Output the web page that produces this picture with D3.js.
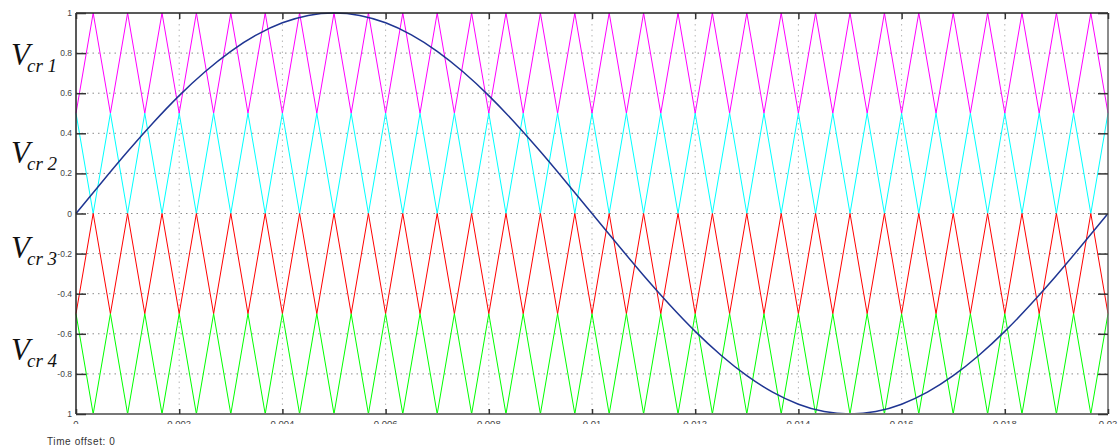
<!DOCTYPE html>
<html>
<head>
<meta charset="utf-8">
<script src="https://cdn.jsdelivr.net/npm/d3@7"></script>
<style>
  body { margin: 0; background: #fff; }
  svg { display: block; }
</style>
</head>
<body>
<svg id="chart" width="1118" height="448"></svg>
<script>
// ---------- data ----------
const carrierTimes = [
  0, 0.000333, 0.000667, 0.001, 0.001333, 0.001667, 0.002, 0.002333, 0.002667, 0.003,
  0.003333, 0.003667, 0.004, 0.004333, 0.004667, 0.005, 0.005333, 0.005667, 0.006, 0.006333,
  0.006667, 0.007, 0.007333, 0.007667, 0.008, 0.008333, 0.008667, 0.009, 0.009333, 0.009667,
  0.01, 0.010333, 0.010667, 0.011, 0.011333, 0.011667, 0.012, 0.012333, 0.012667, 0.013,
  0.013333, 0.013667, 0.014, 0.014333, 0.014667, 0.015, 0.015333, 0.015667, 0.016, 0.016333,
  0.016667, 0.017, 0.017333, 0.017667, 0.018, 0.018333, 0.018667, 0.019, 0.019333, 0.019667, 0.02
];
// vertex values of the four triangular carriers (alternating trough/peak)
const vcr1 = [0.5,1,0.5,1,0.5,1,0.5,1,0.5,1,0.5,1,0.5,1,0.5,1,0.5,1,0.5,1,0.5,1,0.5,1,0.5,1,0.5,1,0.5,1,0.5,1,0.5,1,0.5,1,0.5,1,0.5,1,0.5,1,0.5,1,0.5,1,0.5,1,0.5,1,0.5,1,0.5,1,0.5,1,0.5,1,0.5,1,0.5];
const vcr2 = [0.5,0,0.5,0,0.5,0,0.5,0,0.5,0,0.5,0,0.5,0,0.5,0,0.5,0,0.5,0,0.5,0,0.5,0,0.5,0,0.5,0,0.5,0,0.5,0,0.5,0,0.5,0,0.5,0,0.5,0,0.5,0,0.5,0,0.5,0,0.5,0,0.5,0,0.5,0,0.5,0,0.5,0,0.5,0,0.5,0,0.5];
const vcr3 = [-0.5,0,-0.5,0,-0.5,0,-0.5,0,-0.5,0,-0.5,0,-0.5,0,-0.5,0,-0.5,0,-0.5,0,-0.5,0,-0.5,0,-0.5,0,-0.5,0,-0.5,0,-0.5,0,-0.5,0,-0.5,0,-0.5,0,-0.5,0,-0.5,0,-0.5,0,-0.5,0,-0.5,0,-0.5,0,-0.5,0,-0.5,0,-0.5,0,-0.5,0,-0.5,0,-0.5];
const vcr4 = [-0.5,-1,-0.5,-1,-0.5,-1,-0.5,-1,-0.5,-1,-0.5,-1,-0.5,-1,-0.5,-1,-0.5,-1,-0.5,-1,-0.5,-1,-0.5,-1,-0.5,-1,-0.5,-1,-0.5,-1,-0.5,-1,-0.5,-1,-0.5,-1,-0.5,-1,-0.5,-1,-0.5,-1,-0.5,-1,-0.5,-1,-0.5,-1,-0.5,-1,-0.5,-1,-0.5,-1,-0.5,-1,-0.5,-1,-0.5,-1,-0.5];

const refTimes = [
  0, 0.0005, 0.001, 0.0015, 0.002, 0.0025, 0.003, 0.0035, 0.004, 0.0045,
  0.005, 0.0055, 0.006, 0.0065, 0.007, 0.0075, 0.008, 0.0085, 0.009, 0.0095,
  0.01, 0.0105, 0.011, 0.0115, 0.012, 0.0125, 0.013, 0.0135, 0.014, 0.0145,
  0.015, 0.0155, 0.016, 0.0165, 0.017, 0.0175, 0.018, 0.0185, 0.019, 0.0195, 0.02
];
const refValues = [
  0, 0.156, 0.309, 0.454, 0.588, 0.707, 0.809, 0.891, 0.951, 0.988,
  1, 0.988, 0.951, 0.891, 0.809, 0.707, 0.588, 0.454, 0.309, 0.156,
  0, -0.156, -0.309, -0.454, -0.588, -0.707, -0.809, -0.891, -0.951, -0.988,
  -1, -0.988, -0.951, -0.891, -0.809, -0.707, -0.588, -0.454, -0.309, -0.156, 0
];

const xTicks = [0, 0.002, 0.004, 0.006, 0.008, 0.01, 0.012, 0.014, 0.016, 0.018, 0.02];
const xTickLabels = ["0", "0.002", "0.004", "0.006", "0.008", "0.01", "0.012", "0.014", "0.016", "0.018", "0.02"];
const yTicks = [1, 0.8, 0.6, 0.4, 0.2, 0, -0.2, -0.4, -0.6, -0.8, -1];
const yTickLabels = ["1", "0.8", "0.6", "0.4", "0.2", "0", "-0.2", "-0.4", "-0.6", "-0.8", "1"];

const seriesNames = ["1", "2", "3", "4"];
const seriesColors = ["#ff00ff", "#00ffff", "#ff0000", "#00ff00"];
const refColor = "#1f3592";

// ---------- layout ----------
const svg = d3.select("#chart");
const L = 76, R = 1108, T = 13, B = 414;
const x = d3.scaleLinear().domain([0, 0.02]).range([L, R]);
const y = d3.scaleLinear().domain([-1, 1]).range([B, T]);

// grid
const grid = svg.append("g");
grid.selectAll(".hg").data(yTicks.slice(1, -1)).join("line")
  .attr("x1", L).attr("x2", R)
  .attr("y1", d => y(d)).attr("y2", d => y(d))
  .attr("stroke", "#8a8a8a").attr("stroke-width", 1)
  .attr("stroke-dasharray", "1.5,4");
grid.selectAll(".vg").data(xTicks.slice(1, -1)).join("line")
  .attr("y1", T).attr("y2", B)
  .attr("x1", d => x(d)).attr("x2", d => x(d))
  .attr("stroke", "#b5b5b5").attr("stroke-width", 1)
  .attr("stroke-dasharray", "1.5,4");

// carriers
const carriers = [vcr1, vcr2, vcr3, vcr4];
const line = d3.line().x(d => x(d[0])).y(d => y(d[1]));
carriers.forEach((vals, i) => {
  svg.append("path")
    .datum(carrierTimes.map((t, k) => [t, vals[k]]))
    .attr("d", line)
    .attr("fill", "none")
    .attr("stroke", seriesColors[i])
    .attr("stroke-width", 1);
});

// reference sine
svg.append("path")
  .datum(refTimes.map((t, k) => [t, refValues[k]]))
  .attr("d", d3.line().x(d => x(d[0])).y(d => y(d[1])).curve(d3.curveNatural))
  .attr("fill", "none")
  .attr("stroke", refColor)
  .attr("stroke-width", 1.5);

// frame
svg.append("line").attr("x1", L).attr("x2", R).attr("y1", T).attr("y2", T).attr("stroke", "#222").attr("stroke-width", 1.5);
svg.append("line").attr("x1", L).attr("x2", L).attr("y1", T).attr("y2", B).attr("stroke", "#222").attr("stroke-width", 1.5);
svg.append("line").attr("x1", R).attr("x2", R).attr("y1", T).attr("y2", B).attr("stroke", "#666").attr("stroke-width", 1.5);
svg.append("line").attr("x1", L).attr("x2", R).attr("y1", B).attr("y2", B).attr("stroke", "#777").attr("stroke-width", 2);

// inward ticks
const yAxisL = d3.axisRight(y).tickValues(yTicks).tickSize(10).tickFormat("");
const gL = svg.append("g").attr("transform", `translate(${L},0)`).call(yAxisL);
const yAxisR = d3.axisLeft(y).tickValues(yTicks).tickSize(10).tickFormat("");
const gR = svg.append("g").attr("transform", `translate(${R},0)`).call(yAxisR);
const xAxisT = d3.axisBottom(x).tickValues(xTicks).tickSize(6).tickFormat("");
const gT = svg.append("g").attr("transform", `translate(0,${T})`).call(xAxisT);
const xAxisB = d3.axisTop(x).tickValues(xTicks).tickSize(5).tickFormat("");
const gB = svg.append("g").attr("transform", `translate(0,${B})`).call(xAxisB);
[gL, gR, gT, gB].forEach(g => {
  g.select(".domain").remove();
  g.selectAll(".tick line").attr("stroke", "#333").attr("stroke-width", 1.5);
});

// tick labels
svg.append("defs").append("clipPath").attr("id", "xclip")
  .append("rect").attr("x", 0).attr("y", 0).attr("width", 1118).attr("height", 424);
svg.append("g").attr("clip-path", "url(#xclip)")
  .selectAll("text").data(xTicks).join("text")
  .attr("x", d => x(d)).attr("y", 427)
  .attr("text-anchor", "middle")
  .attr("font-family", "Liberation Sans, Arial, sans-serif")
  .attr("font-size", 9.5).attr("fill", "#444")
  .text((d, i) => xTickLabels[i]);

svg.append("g").selectAll("text").data(yTicks).join("text")
  .attr("x", 72).attr("y", d => y(d) + 3)
  .attr("text-anchor", "end")
  .attr("font-family", "Liberation Sans, Arial, sans-serif")
  .attr("font-size", 8.5).attr("fill", "#444")
  .text((d, i) => yTickLabels[i]);

// V_cr labels
const vBase = [65, 163, 258, 360];
const lab = svg.append("g").attr("font-family", "Liberation Serif, Times New Roman, serif").attr("font-style", "italic").attr("fill", "#111");
seriesNames.forEach((n, i) => {
  lab.append("text").attr("x", 11).attr("y", vBase[i]).attr("font-size", 31).text("V");
  lab.append("text").attr("x", 27).attr("y", vBase[i] + 7).attr("font-size", 19).text("cr " + n);
});

// footer
svg.append("text").attr("x", 47).attr("y", 445)
  .attr("font-family", "Liberation Sans, Arial, sans-serif")
  .attr("font-size", 10).attr("letter-spacing", 0.6).attr("fill", "#333")
  .text("Time offset: 0");
</script>
</body>
</html>
